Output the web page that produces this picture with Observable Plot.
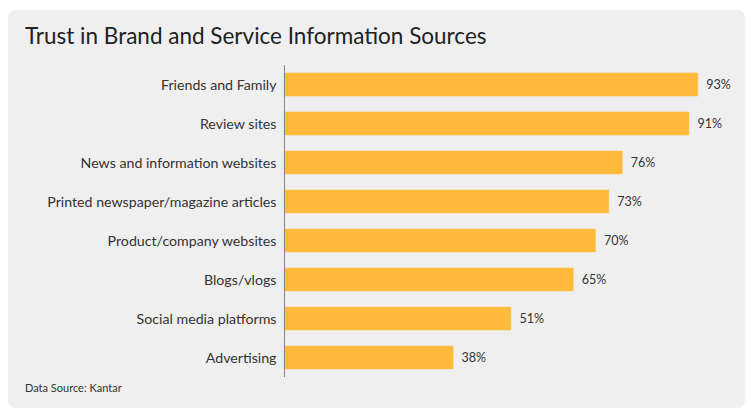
<!DOCTYPE html>
<html>
<head>
<meta charset="utf-8">
<script src="https://cdn.jsdelivr.net/npm/d3@7"></script>
<script src="https://cdn.jsdelivr.net/npm/@observablehq/plot@0.6"></script>
<style>
  html, body { margin: 0; padding: 0; background: #ffffff; }
  #wrap { position: relative; width: 751px; height: 418px; overflow: hidden; font-family: Lato, "Open Sans", sans-serif; }
  #card { position: absolute; left: 8px; top: 10px; width: 737px; height: 398px; background: #efefef; border-radius: 8px; }
  #title { position: absolute; left: 25px; top: 22px; margin: 0; font-size: 22.5px; font-weight: 400; color: #222; white-space: nowrap; }
  #caption { position: absolute; left: 25px; top: 381px; margin: 0; font-size: 11px; color: #333; white-space: nowrap; }
  #chart { position: absolute; left: 0; top: 0; }
</style>
</head>
<body>
<div id="wrap">
  <div id="card"></div>
  <div id="chart"></div>
  <h1 id="title">Trust in Brand and Service Information Sources</h1>
  <p id="caption">Data Source: Kantar</p>
</div>
<script>
const categories = [
  "Friends and Family",
  "Review sites",
  "News and information websites",
  "Printed newspaper/magazine articles",
  "Product/company websites",
  "Blogs/vlogs",
  "Social media platforms",
  "Advertising"
];
const values = [93, 91, 76, 73, 70, 65, 51, 38];

const data = categories.map((c, i) => ({ source: c, value: values[i] }));

const chart = Plot.plot({
  width: 751,
  height: 418,
  marginLeft: 284,
  marginRight: 22,
  marginTop: 65,
  marginBottom: 41,
  style: { background: "transparent", fontFamily: "Lato, 'Open Sans', sans-serif", color: "#333" },
  x: { domain: [0, 100], axis: null },
  y: { domain: categories, paddingInner: 0.41, paddingOuter: 0.205, label: null },
  marks: [
    Plot.barX(data, { x: "value", y: "source", fill: "#ffb93b", stroke: "#ffc45a", strokeWidth: 0.6 }),
    Plot.ruleX([0], { stroke: "#888", strokeWidth: 1 }),
    Plot.text(data, { x: "value", y: "source", text: d => d.value + "%", textAnchor: "start", dx: 8, fontSize: 12.5, fill: "#333" }),
    Plot.axisY({ tickSize: 0, tickPadding: 8, fontSize: 14.2, color: "#333", label: null })
  ]
});
document.getElementById("chart").appendChild(chart);
</script>
</body>
</html>
